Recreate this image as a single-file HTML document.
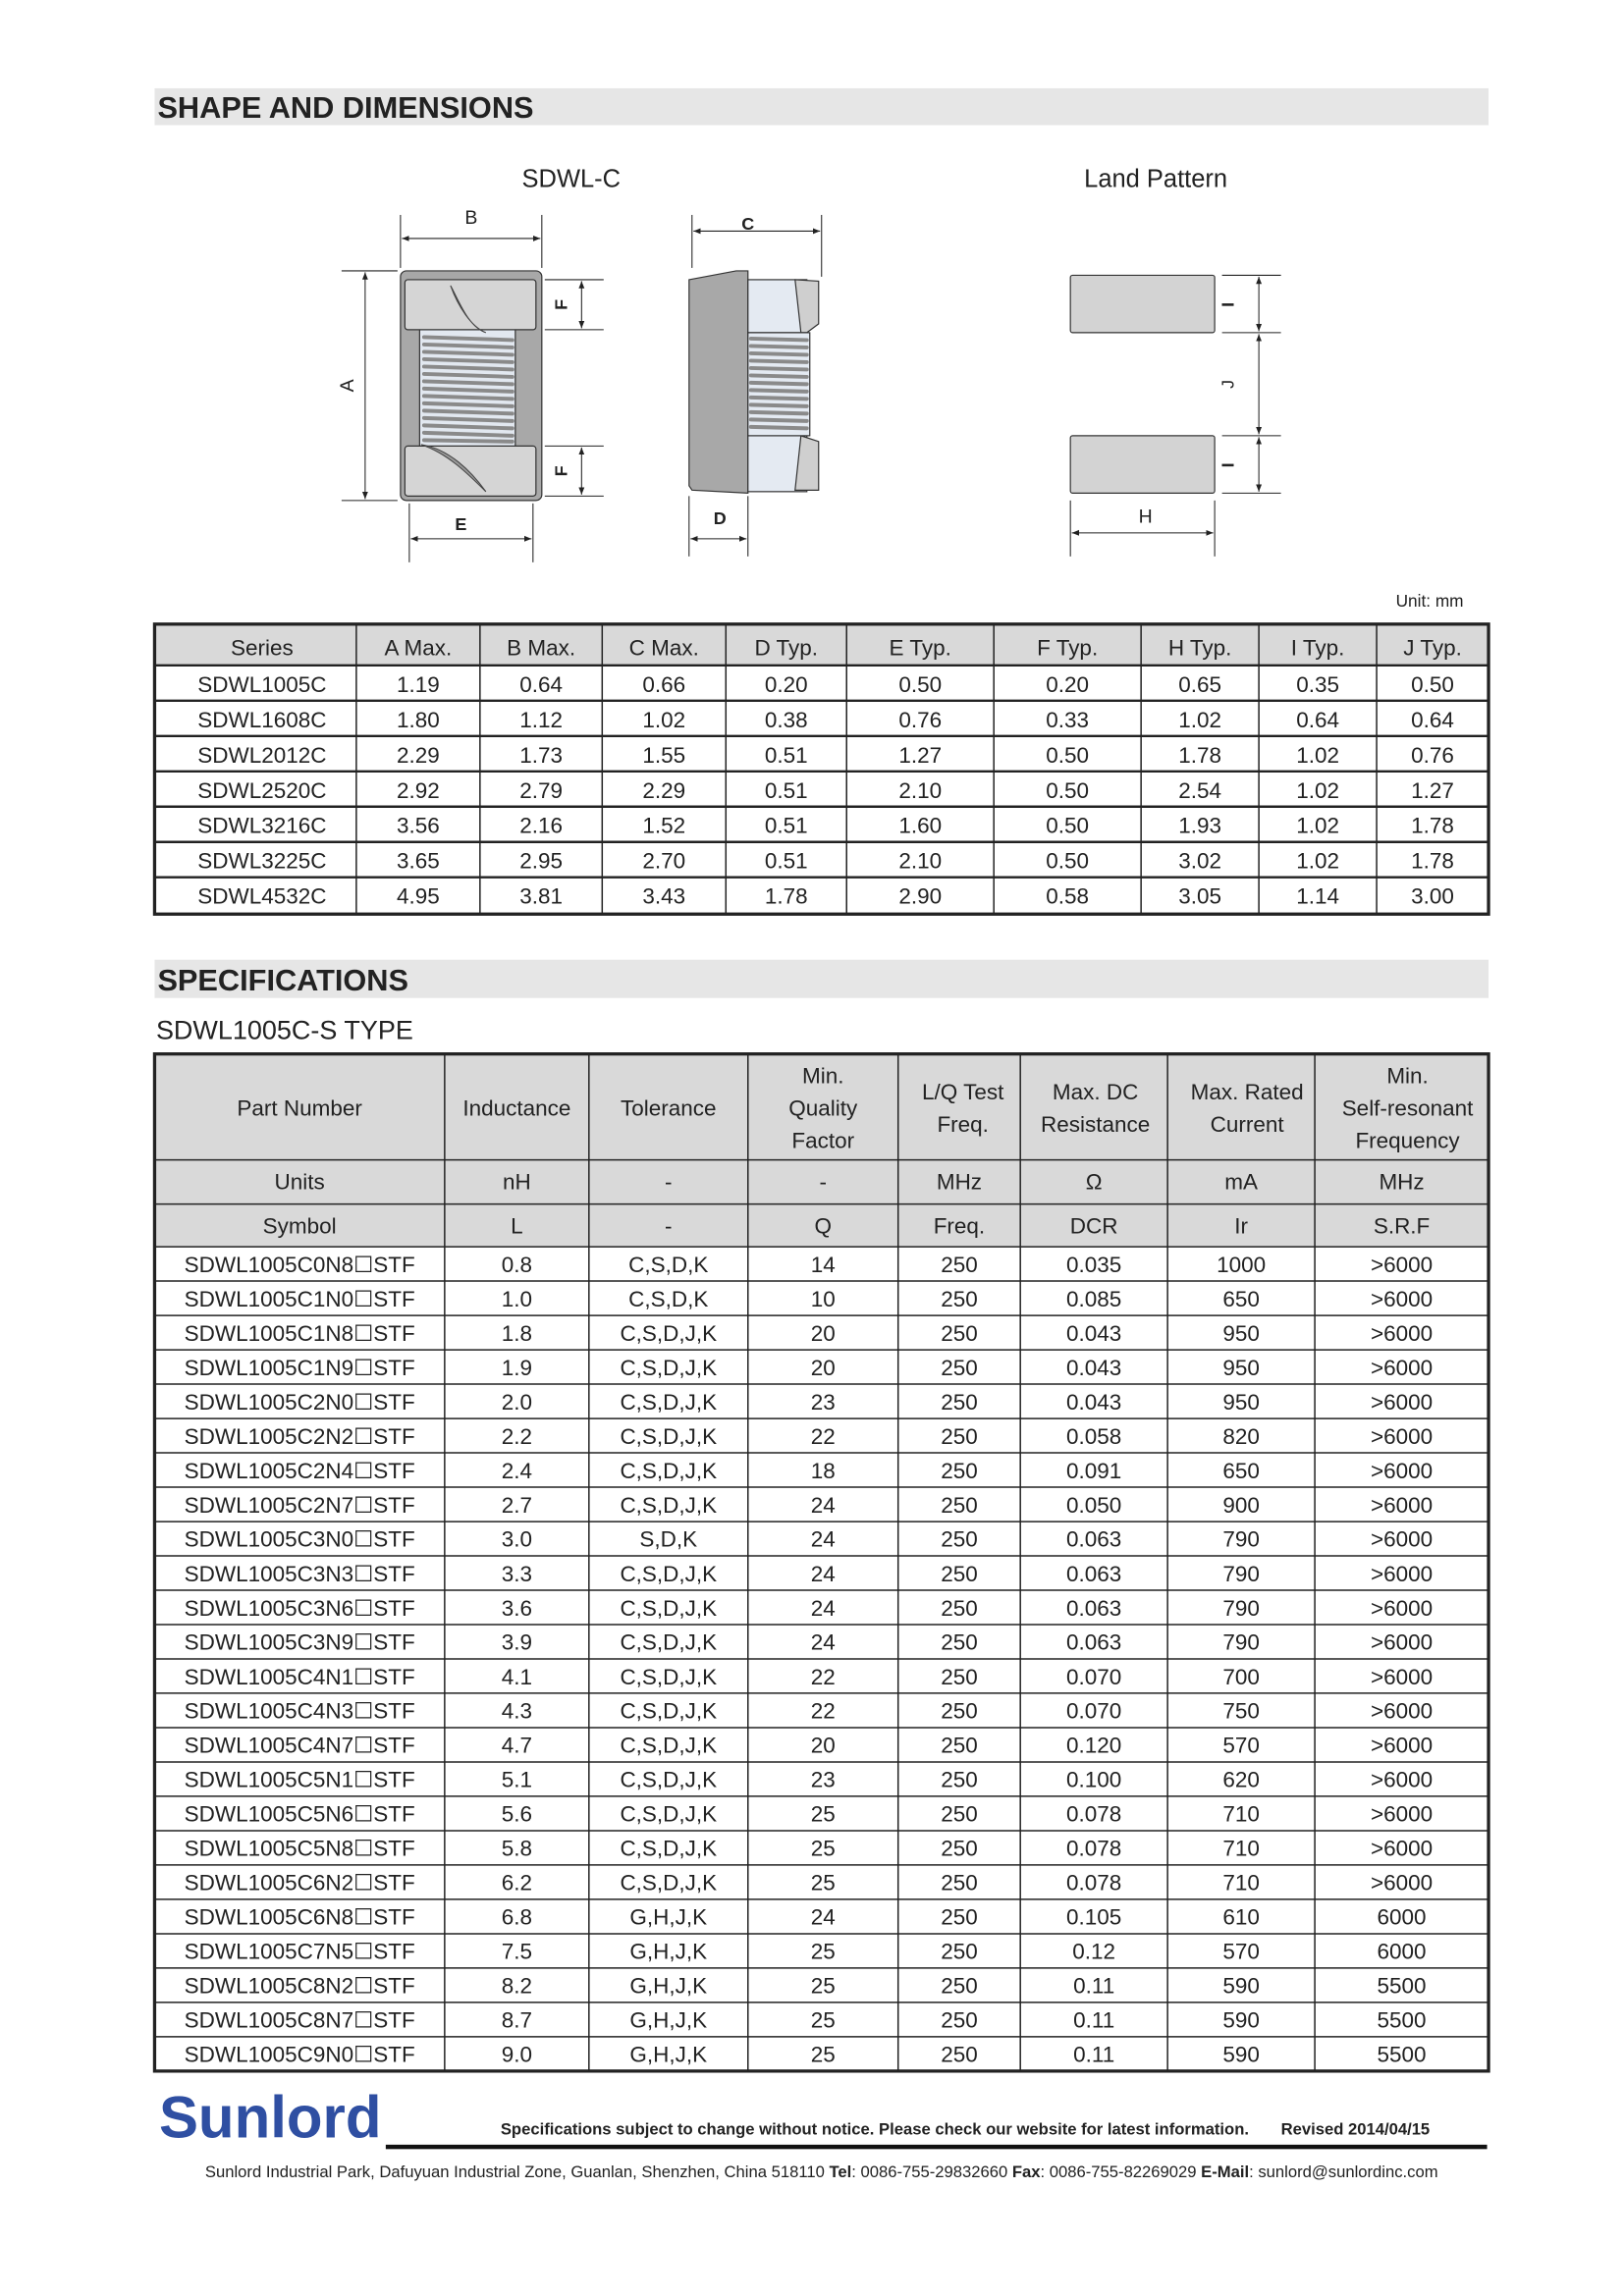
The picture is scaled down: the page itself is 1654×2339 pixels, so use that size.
<!DOCTYPE html>
<html><head><meta charset="utf-8"><style>
html,body{margin:0;padding:0;background:#fff}
svg{display:block}
text{font-family:"Liberation Sans","DejaVu Sans",Arial,sans-serif;fill:#222}
</style></head><body>
<svg width="1654" height="2339" viewBox="0 0 1103 1559.8" xmlns="http://www.w3.org/2000/svg">
<defs>
<marker id="ar" viewBox="0 0 10 10" refX="10" refY="5" markerWidth="7" markerHeight="7" orient="auto-start-reverse"><path d="M0,1 L10,5 L0,9 z" fill="#222"/></marker>
</defs>
<rect x="105" y="60" width="906" height="25" fill="#e6e6e6"/>
<text x="107" y="80" font-size="20.5" font-weight="bold" fill="#1a1a1a">SHAPE AND DIMENSIONS</text>
<text x="388" y="127" font-size="17" text-anchor="middle">SDWL-C</text>
<text x="785" y="127" font-size="17" text-anchor="middle">Land Pattern</text>

<g stroke="#333" stroke-width="0.8">
<rect x="272" y="184" width="96" height="156" rx="4" fill="#a8a8a8"/>
<rect x="285" y="222" width="65" height="83" fill="#e2e8f0"/>
<rect x="275" y="190" width="89" height="34" rx="2" fill="#d5d5d5"/>
<rect x="275" y="303" width="89" height="34" rx="2" fill="#d5d5d5"/>
</g>
<g stroke="#8a8a8a" stroke-width="2.6" stroke-linecap="round">
<line x1="288" y1="229" x2="348" y2="231"/><line x1="288" y1="234" x2="348" y2="236"/><line x1="288" y1="239" x2="348" y2="241"/><line x1="288" y1="244" x2="348" y2="246"/><line x1="288" y1="249" x2="348" y2="251"/><line x1="288" y1="254" x2="348" y2="256"/><line x1="288" y1="259" x2="348" y2="261"/><line x1="288" y1="264" x2="348" y2="266"/><line x1="288" y1="269" x2="348" y2="271"/><line x1="288" y1="274" x2="348" y2="276"/><line x1="288" y1="279" x2="348" y2="281"/><line x1="288" y1="284" x2="348" y2="286"/><line x1="288" y1="289" x2="348" y2="291"/><line x1="288" y1="294" x2="348" y2="296"/><line x1="288" y1="299" x2="348" y2="300"/>
</g>
<path d="M306,194 C312,205 318,222 330,226 C320,222 311,208 306,194 z" fill="#999" stroke="#444" stroke-width="0.7"/>
<path d="M286,302 C305,305 320,320 330,334 C318,322 304,308 286,302 z" fill="#999" stroke="#444" stroke-width="0.7"/>
<g stroke="#222" stroke-width="0.7" fill="none">
<line x1="272" y1="146" x2="272" y2="182"/><line x1="368" y1="146" x2="368" y2="182"/>
<line x1="273" y1="162" x2="367" y2="162" marker-start="url(#ar)" marker-end="url(#ar)"/>
<line x1="232" y1="184" x2="270" y2="184"/><line x1="232" y1="340" x2="270" y2="340"/>
<line x1="248" y1="185" x2="248" y2="339" marker-start="url(#ar)" marker-end="url(#ar)"/>
<line x1="370" y1="190" x2="410" y2="190"/><line x1="370" y1="224" x2="410" y2="224"/>
<line x1="395" y1="191" x2="395" y2="223" marker-start="url(#ar)" marker-end="url(#ar)"/>
<line x1="370" y1="303" x2="410" y2="303"/><line x1="370" y1="337" x2="410" y2="337"/>
<line x1="395" y1="304" x2="395" y2="336" marker-start="url(#ar)" marker-end="url(#ar)"/>
<line x1="278" y1="342" x2="278" y2="382"/><line x1="362" y1="342" x2="362" y2="382"/>
<line x1="279" y1="366" x2="361" y2="366" marker-start="url(#ar)" marker-end="url(#ar)"/>
</g>
<text x="320" y="152" font-size="13" text-anchor="middle">B</text>
<text x="313" y="360" font-size="12" font-weight="bold" text-anchor="middle">E</text>
<text transform="translate(240,262) rotate(-90)" font-size="13" text-anchor="middle">A</text>
<text transform="translate(385,207) rotate(-90)" font-size="12" font-weight="bold" text-anchor="middle">F</text>
<text transform="translate(385,320) rotate(-90)" font-size="12" font-weight="bold" text-anchor="middle">F</text>

<g stroke="#333" stroke-width="0.8">
<path d="M468,190 L500,184 L508,184 L508,335 L470,333 L468,330 z" fill="#a8a8a8"/>
<rect x="508" y="190" width="40" height="36" fill="#e4eaf2"/>
<rect x="508" y="296" width="40" height="38" fill="#e4eaf2"/>
<path d="M540,190 L556,191 L556,220 L548,226 L544,226 z" fill="#cfcfcf"/>
<path d="M544,296 L556,300 L556,333 L540,333 z" fill="#cfcfcf"/>
<rect x="508" y="226" width="42" height="70" fill="#e4eaf2"/>
</g>
<g stroke="#8a8a8a" stroke-width="2.6" stroke-linecap="round">
<line x1="510" y1="230" x2="548" y2="231"/><line x1="510" y1="235" x2="548" y2="236"/><line x1="510" y1="240" x2="548" y2="241"/><line x1="510" y1="245" x2="548" y2="246"/><line x1="510" y1="250" x2="548" y2="251"/><line x1="510" y1="255" x2="548" y2="256"/><line x1="510" y1="260" x2="548" y2="261"/><line x1="510" y1="265" x2="548" y2="266"/><line x1="510" y1="270" x2="548" y2="271"/><line x1="510" y1="275" x2="548" y2="276"/><line x1="510" y1="280" x2="548" y2="281"/><line x1="510" y1="285" x2="548" y2="286"/><line x1="510" y1="290" x2="548" y2="291"/>
</g>
<g stroke="#222" stroke-width="0.7" fill="none">
<line x1="470" y1="146" x2="470" y2="182"/><line x1="558" y1="146" x2="558" y2="188"/>
<line x1="471" y1="157" x2="557" y2="157" marker-start="url(#ar)" marker-end="url(#ar)"/>
<line x1="468" y1="337" x2="468" y2="378"/><line x1="508" y1="337" x2="508" y2="378"/>
<line x1="469" y1="366" x2="507" y2="366" marker-start="url(#ar)" marker-end="url(#ar)"/>
</g>
<text x="508" y="156" font-size="12" font-weight="bold" text-anchor="middle">C</text>
<text x="489" y="356" font-size="12" font-weight="bold" text-anchor="middle">D</text>

<g stroke="#333" stroke-width="0.8" fill="#d3d3d3">
<rect x="727" y="187" width="98" height="39" rx="1.5"/>
<rect x="727" y="296" width="98" height="39" rx="1.5"/>
</g>
<g stroke="#222" stroke-width="0.7" fill="none">
<line x1="830" y1="187" x2="870" y2="187"/><line x1="830" y1="226" x2="870" y2="226"/>
<line x1="830" y1="296" x2="870" y2="296"/><line x1="830" y1="335" x2="870" y2="335"/>
<line x1="855" y1="188" x2="855" y2="225" marker-start="url(#ar)" marker-end="url(#ar)"/>
<line x1="855" y1="227" x2="855" y2="295" marker-start="url(#ar)" marker-end="url(#ar)"/>
<line x1="855" y1="297" x2="855" y2="334" marker-start="url(#ar)" marker-end="url(#ar)"/>
<line x1="727" y1="340" x2="727" y2="378"/><line x1="825" y1="340" x2="825" y2="378"/>
<line x1="728" y1="362" x2="824" y2="362" marker-start="url(#ar)" marker-end="url(#ar)"/>
</g>
<text transform="translate(838,207) rotate(-90)" font-size="12" font-weight="bold" text-anchor="middle">I</text>
<text transform="translate(838,261) rotate(-90)" font-size="12" text-anchor="middle">J</text>
<text transform="translate(838,316) rotate(-90)" font-size="12" font-weight="bold" text-anchor="middle">I</text>
<text x="778" y="355" font-size="13" text-anchor="middle">H</text>

<text x="994" y="412" font-size="11.5" text-anchor="end">Unit: mm</text>

<rect x="105" y="424" width="906" height="28" fill="#d9d9d9"/>
<g stroke="#222" stroke-width="1">
<line x1="242" y1="424" x2="242" y2="621"/><line x1="326" y1="424" x2="326" y2="621"/><line x1="409" y1="424" x2="409" y2="621"/><line x1="493" y1="424" x2="493" y2="621"/><line x1="575" y1="424" x2="575" y2="621"/><line x1="675" y1="424" x2="675" y2="621"/><line x1="775" y1="424" x2="775" y2="621"/><line x1="855" y1="424" x2="855" y2="621"/><line x1="935" y1="424" x2="935" y2="621"/>
</g>
<g stroke="#222" stroke-width="1.6">
<line x1="105" y1="452" x2="1011" y2="452"/><line x1="105" y1="476" x2="1011" y2="476"/><line x1="105" y1="500" x2="1011" y2="500"/><line x1="105" y1="524" x2="1011" y2="524"/><line x1="105" y1="548" x2="1011" y2="548"/><line x1="105" y1="572" x2="1011" y2="572"/><line x1="105" y1="596" x2="1011" y2="596"/>
</g>
<rect x="105" y="424" width="906" height="197" fill="none" stroke="#222" stroke-width="2.2"/>
<g font-size="15" text-anchor="middle">
<text y="445"><tspan x="178">Series</tspan><tspan x="284">A Max.</tspan><tspan x="367.5">B Max.</tspan><tspan x="451">C Max.</tspan><tspan x="534">D Typ.</tspan><tspan x="625">E Typ.</tspan><tspan x="725">F Typ.</tspan><tspan x="815">H Typ.</tspan><tspan x="895">I Typ.</tspan><tspan x="973">J Typ.</tspan></text>
<text y="470"><tspan x="178">SDWL1005C</tspan><tspan x="284">1.19</tspan><tspan x="367.5">0.64</tspan><tspan x="451">0.66</tspan><tspan x="534">0.20</tspan><tspan x="625">0.50</tspan><tspan x="725">0.20</tspan><tspan x="815">0.65</tspan><tspan x="895">0.35</tspan><tspan x="973">0.50</tspan></text>
<text y="494"><tspan x="178">SDWL1608C</tspan><tspan x="284">1.80</tspan><tspan x="367.5">1.12</tspan><tspan x="451">1.02</tspan><tspan x="534">0.38</tspan><tspan x="625">0.76</tspan><tspan x="725">0.33</tspan><tspan x="815">1.02</tspan><tspan x="895">0.64</tspan><tspan x="973">0.64</tspan></text>
<text y="518"><tspan x="178">SDWL2012C</tspan><tspan x="284">2.29</tspan><tspan x="367.5">1.73</tspan><tspan x="451">1.55</tspan><tspan x="534">0.51</tspan><tspan x="625">1.27</tspan><tspan x="725">0.50</tspan><tspan x="815">1.78</tspan><tspan x="895">1.02</tspan><tspan x="973">0.76</tspan></text>
<text y="542"><tspan x="178">SDWL2520C</tspan><tspan x="284">2.92</tspan><tspan x="367.5">2.79</tspan><tspan x="451">2.29</tspan><tspan x="534">0.51</tspan><tspan x="625">2.10</tspan><tspan x="725">0.50</tspan><tspan x="815">2.54</tspan><tspan x="895">1.02</tspan><tspan x="973">1.27</tspan></text>
<text y="566"><tspan x="178">SDWL3216C</tspan><tspan x="284">3.56</tspan><tspan x="367.5">2.16</tspan><tspan x="451">1.52</tspan><tspan x="534">0.51</tspan><tspan x="625">1.60</tspan><tspan x="725">0.50</tspan><tspan x="815">1.93</tspan><tspan x="895">1.02</tspan><tspan x="973">1.78</tspan></text>
<text y="590"><tspan x="178">SDWL3225C</tspan><tspan x="284">3.65</tspan><tspan x="367.5">2.95</tspan><tspan x="451">2.70</tspan><tspan x="534">0.51</tspan><tspan x="625">2.10</tspan><tspan x="725">0.50</tspan><tspan x="815">3.02</tspan><tspan x="895">1.02</tspan><tspan x="973">1.78</tspan></text>
<text y="614"><tspan x="178">SDWL4532C</tspan><tspan x="284">4.95</tspan><tspan x="367.5">3.81</tspan><tspan x="451">3.43</tspan><tspan x="534">1.78</tspan><tspan x="625">2.90</tspan><tspan x="725">0.58</tspan><tspan x="815">3.05</tspan><tspan x="895">1.14</tspan><tspan x="973">3.00</tspan></text>
</g>

<rect x="105" y="652" width="906" height="26" fill="#e6e6e6"/>
<text x="107" y="673" font-size="20.5" font-weight="bold" fill="#1a1a1a">SPECIFICATIONS</text>
<text x="106" y="706" font-size="18">SDWL1005C-S TYPE</text>

<rect x="105" y="716" width="906" height="131" fill="#d9d9d9"/>
<g stroke="#222" stroke-width="1">
<line x1="302" y1="716" x2="302" y2="1407"/><line x1="400" y1="716" x2="400" y2="1407"/><line x1="508" y1="716" x2="508" y2="1407"/><line x1="610" y1="716" x2="610" y2="1407"/><line x1="693" y1="716" x2="693" y2="1407"/><line x1="793" y1="716" x2="793" y2="1407"/><line x1="893" y1="716" x2="893" y2="1407"/>
<line x1="105" y1="788" x2="1011" y2="788"/><line x1="105" y1="818" x2="1011" y2="818"/><line x1="105" y1="847" x2="1011" y2="847"/>
<line x1="105" y1="870.3" x2="1011" y2="870.3"/><line x1="105" y1="893.7" x2="1011" y2="893.7"/><line x1="105" y1="917" x2="1011" y2="917"/><line x1="105" y1="940.3" x2="1011" y2="940.3"/><line x1="105" y1="963.7" x2="1011" y2="963.7"/><line x1="105" y1="987" x2="1011" y2="987"/><line x1="105" y1="1010.3" x2="1011" y2="1010.3"/><line x1="105" y1="1033.7" x2="1011" y2="1033.7"/><line x1="105" y1="1057" x2="1011" y2="1057"/><line x1="105" y1="1080.3" x2="1011" y2="1080.3"/><line x1="105" y1="1103.7" x2="1011" y2="1103.7"/><line x1="105" y1="1127" x2="1011" y2="1127"/><line x1="105" y1="1150.3" x2="1011" y2="1150.3"/><line x1="105" y1="1173.7" x2="1011" y2="1173.7"/><line x1="105" y1="1197" x2="1011" y2="1197"/><line x1="105" y1="1220.3" x2="1011" y2="1220.3"/><line x1="105" y1="1243.7" x2="1011" y2="1243.7"/><line x1="105" y1="1267" x2="1011" y2="1267"/><line x1="105" y1="1290.3" x2="1011" y2="1290.3"/><line x1="105" y1="1313.7" x2="1011" y2="1313.7"/><line x1="105" y1="1337" x2="1011" y2="1337"/><line x1="105" y1="1360.3" x2="1011" y2="1360.3"/><line x1="105" y1="1383.7" x2="1011" y2="1383.7"/>
</g>
<rect x="105" y="716" width="906" height="691" fill="none" stroke="#222" stroke-width="2.2"/>
<g font-size="15" text-anchor="middle">
<text y="758"><tspan x="203.5">Part Number</tspan><tspan x="351">Inductance</tspan><tspan x="454">Tolerance</tspan></text>
<text y="736"><tspan x="559">Min.</tspan><tspan x="956">Min.</tspan></text>
<text y="758"><tspan x="559">Quality</tspan><tspan x="956">Self-resonant</tspan></text>
<text y="780"><tspan x="559">Factor</tspan><tspan x="956">Frequency</tspan></text>
<text y="747"><tspan x="654">L/Q Test</tspan><tspan x="744">Max. DC</tspan><tspan x="847">Max. Rated</tspan></text>
<text y="769"><tspan x="654">Freq.</tspan><tspan x="744">Resistance</tspan><tspan x="847">Current</tspan></text>
<text y="808"><tspan x="203.5">Units</tspan><tspan x="351">nH</tspan><tspan x="454">-</tspan><tspan x="559">-</tspan><tspan x="651.5">MHz</tspan><tspan x="743">Ω</tspan><tspan x="843">mA</tspan><tspan x="952">MHz</tspan></text>
<text y="838"><tspan x="203.5">Symbol</tspan><tspan x="351">L</tspan><tspan x="454">-</tspan><tspan x="559">Q</tspan><tspan x="651.5">Freq.</tspan><tspan x="743">DCR</tspan><tspan x="843">Ir</tspan><tspan x="952">S.R.F</tspan></text>
<text y="864.2"><tspan x="203.5">SDWL1005C0N8☐STF</tspan><tspan x="351">0.8</tspan><tspan x="454">C,S,D,K</tspan><tspan x="559">14</tspan><tspan x="651.5">250</tspan><tspan x="743">0.035</tspan><tspan x="843">1000</tspan><tspan x="952">&gt;6000</tspan></text>
<text y="887.5"><tspan x="203.5">SDWL1005C1N0☐STF</tspan><tspan x="351">1.0</tspan><tspan x="454">C,S,D,K</tspan><tspan x="559">10</tspan><tspan x="651.5">250</tspan><tspan x="743">0.085</tspan><tspan x="843">650</tspan><tspan x="952">&gt;6000</tspan></text>
<text y="910.8"><tspan x="203.5">SDWL1005C1N8☐STF</tspan><tspan x="351">1.8</tspan><tspan x="454">C,S,D,J,K</tspan><tspan x="559">20</tspan><tspan x="651.5">250</tspan><tspan x="743">0.043</tspan><tspan x="843">950</tspan><tspan x="952">&gt;6000</tspan></text>
<text y="934.2"><tspan x="203.5">SDWL1005C1N9☐STF</tspan><tspan x="351">1.9</tspan><tspan x="454">C,S,D,J,K</tspan><tspan x="559">20</tspan><tspan x="651.5">250</tspan><tspan x="743">0.043</tspan><tspan x="843">950</tspan><tspan x="952">&gt;6000</tspan></text>
<text y="957.5"><tspan x="203.5">SDWL1005C2N0☐STF</tspan><tspan x="351">2.0</tspan><tspan x="454">C,S,D,J,K</tspan><tspan x="559">23</tspan><tspan x="651.5">250</tspan><tspan x="743">0.043</tspan><tspan x="843">950</tspan><tspan x="952">&gt;6000</tspan></text>
<text y="980.8"><tspan x="203.5">SDWL1005C2N2☐STF</tspan><tspan x="351">2.2</tspan><tspan x="454">C,S,D,J,K</tspan><tspan x="559">22</tspan><tspan x="651.5">250</tspan><tspan x="743">0.058</tspan><tspan x="843">820</tspan><tspan x="952">&gt;6000</tspan></text>
<text y="1004.2"><tspan x="203.5">SDWL1005C2N4☐STF</tspan><tspan x="351">2.4</tspan><tspan x="454">C,S,D,J,K</tspan><tspan x="559">18</tspan><tspan x="651.5">250</tspan><tspan x="743">0.091</tspan><tspan x="843">650</tspan><tspan x="952">&gt;6000</tspan></text>
<text y="1027.5"><tspan x="203.5">SDWL1005C2N7☐STF</tspan><tspan x="351">2.7</tspan><tspan x="454">C,S,D,J,K</tspan><tspan x="559">24</tspan><tspan x="651.5">250</tspan><tspan x="743">0.050</tspan><tspan x="843">900</tspan><tspan x="952">&gt;6000</tspan></text>
<text y="1050.8"><tspan x="203.5">SDWL1005C3N0☐STF</tspan><tspan x="351">3.0</tspan><tspan x="454">S,D,K</tspan><tspan x="559">24</tspan><tspan x="651.5">250</tspan><tspan x="743">0.063</tspan><tspan x="843">790</tspan><tspan x="952">&gt;6000</tspan></text>
<text y="1074.2"><tspan x="203.5">SDWL1005C3N3☐STF</tspan><tspan x="351">3.3</tspan><tspan x="454">C,S,D,J,K</tspan><tspan x="559">24</tspan><tspan x="651.5">250</tspan><tspan x="743">0.063</tspan><tspan x="843">790</tspan><tspan x="952">&gt;6000</tspan></text>
<text y="1097.5"><tspan x="203.5">SDWL1005C3N6☐STF</tspan><tspan x="351">3.6</tspan><tspan x="454">C,S,D,J,K</tspan><tspan x="559">24</tspan><tspan x="651.5">250</tspan><tspan x="743">0.063</tspan><tspan x="843">790</tspan><tspan x="952">&gt;6000</tspan></text>
<text y="1120.8"><tspan x="203.5">SDWL1005C3N9☐STF</tspan><tspan x="351">3.9</tspan><tspan x="454">C,S,D,J,K</tspan><tspan x="559">24</tspan><tspan x="651.5">250</tspan><tspan x="743">0.063</tspan><tspan x="843">790</tspan><tspan x="952">&gt;6000</tspan></text>
<text y="1144.2"><tspan x="203.5">SDWL1005C4N1☐STF</tspan><tspan x="351">4.1</tspan><tspan x="454">C,S,D,J,K</tspan><tspan x="559">22</tspan><tspan x="651.5">250</tspan><tspan x="743">0.070</tspan><tspan x="843">700</tspan><tspan x="952">&gt;6000</tspan></text>
<text y="1167.5"><tspan x="203.5">SDWL1005C4N3☐STF</tspan><tspan x="351">4.3</tspan><tspan x="454">C,S,D,J,K</tspan><tspan x="559">22</tspan><tspan x="651.5">250</tspan><tspan x="743">0.070</tspan><tspan x="843">750</tspan><tspan x="952">&gt;6000</tspan></text>
<text y="1190.8"><tspan x="203.5">SDWL1005C4N7☐STF</tspan><tspan x="351">4.7</tspan><tspan x="454">C,S,D,J,K</tspan><tspan x="559">20</tspan><tspan x="651.5">250</tspan><tspan x="743">0.120</tspan><tspan x="843">570</tspan><tspan x="952">&gt;6000</tspan></text>
<text y="1214.2"><tspan x="203.5">SDWL1005C5N1☐STF</tspan><tspan x="351">5.1</tspan><tspan x="454">C,S,D,J,K</tspan><tspan x="559">23</tspan><tspan x="651.5">250</tspan><tspan x="743">0.100</tspan><tspan x="843">620</tspan><tspan x="952">&gt;6000</tspan></text>
<text y="1237.5"><tspan x="203.5">SDWL1005C5N6☐STF</tspan><tspan x="351">5.6</tspan><tspan x="454">C,S,D,J,K</tspan><tspan x="559">25</tspan><tspan x="651.5">250</tspan><tspan x="743">0.078</tspan><tspan x="843">710</tspan><tspan x="952">&gt;6000</tspan></text>
<text y="1260.8"><tspan x="203.5">SDWL1005C5N8☐STF</tspan><tspan x="351">5.8</tspan><tspan x="454">C,S,D,J,K</tspan><tspan x="559">25</tspan><tspan x="651.5">250</tspan><tspan x="743">0.078</tspan><tspan x="843">710</tspan><tspan x="952">&gt;6000</tspan></text>
<text y="1284.2"><tspan x="203.5">SDWL1005C6N2☐STF</tspan><tspan x="351">6.2</tspan><tspan x="454">C,S,D,J,K</tspan><tspan x="559">25</tspan><tspan x="651.5">250</tspan><tspan x="743">0.078</tspan><tspan x="843">710</tspan><tspan x="952">&gt;6000</tspan></text>
<text y="1307.5"><tspan x="203.5">SDWL1005C6N8☐STF</tspan><tspan x="351">6.8</tspan><tspan x="454">G,H,J,K</tspan><tspan x="559">24</tspan><tspan x="651.5">250</tspan><tspan x="743">0.105</tspan><tspan x="843">610</tspan><tspan x="952">6000</tspan></text>
<text y="1330.8"><tspan x="203.5">SDWL1005C7N5☐STF</tspan><tspan x="351">7.5</tspan><tspan x="454">G,H,J,K</tspan><tspan x="559">25</tspan><tspan x="651.5">250</tspan><tspan x="743">0.12</tspan><tspan x="843">570</tspan><tspan x="952">6000</tspan></text>
<text y="1354.2"><tspan x="203.5">SDWL1005C8N2☐STF</tspan><tspan x="351">8.2</tspan><tspan x="454">G,H,J,K</tspan><tspan x="559">25</tspan><tspan x="651.5">250</tspan><tspan x="743">0.11</tspan><tspan x="843">590</tspan><tspan x="952">5500</tspan></text>
<text y="1377.5"><tspan x="203.5">SDWL1005C8N7☐STF</tspan><tspan x="351">8.7</tspan><tspan x="454">G,H,J,K</tspan><tspan x="559">25</tspan><tspan x="651.5">250</tspan><tspan x="743">0.11</tspan><tspan x="843">590</tspan><tspan x="952">5500</tspan></text>
<text y="1400.8"><tspan x="203.5">SDWL1005C9N0☐STF</tspan><tspan x="351">9.0</tspan><tspan x="454">G,H,J,K</tspan><tspan x="559">25</tspan><tspan x="651.5">250</tspan><tspan x="743">0.11</tspan><tspan x="843">590</tspan><tspan x="952">5500</tspan></text>
</g>

<text x="108" y="1452" font-size="40" font-weight="bold" style="fill:#2f4fa2">Sunlord</text>
<text x="340" y="1450" font-size="11.1" font-weight="bold">Specifications subject to change without notice. Please check our website for latest information.</text>
<text x="870" y="1450" font-size="11.1" font-weight="bold">Revised 2014/04/15</text>
<rect x="262" y="1457" width="748" height="3" fill="#111"/>
<text x="558" y="1479" font-size="11.1" text-anchor="middle" fill="#333">Sunlord Industrial Park, Dafuyuan Industrial Zone, Guanlan, Shenzhen, China 518110 <tspan font-weight="bold">Tel</tspan>: 0086-755-29832660 <tspan font-weight="bold">Fax</tspan>: 0086-755-82269029 <tspan font-weight="bold">E-Mail</tspan>: sunlord@sunlordinc.com</text>
</svg>
</body></html>
